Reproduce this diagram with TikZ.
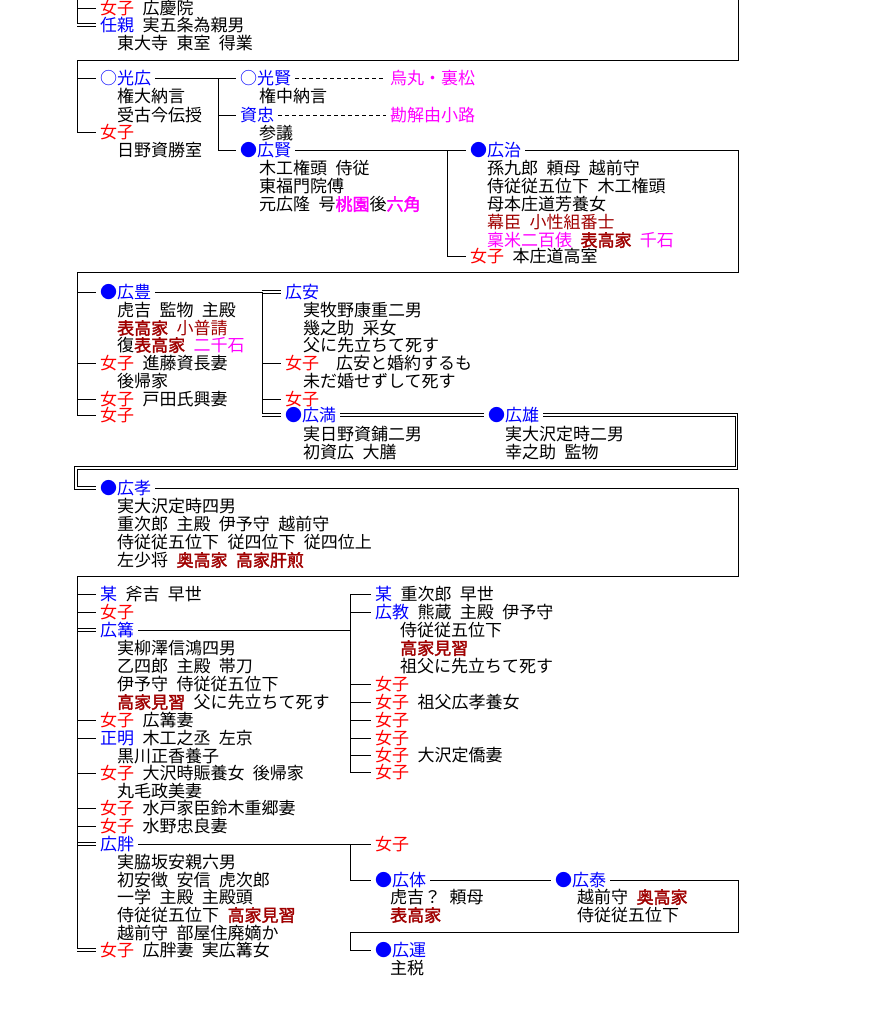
\documentclass[tikz,border=0pt]{standalone}
\usepackage{fontspec}
\setmainfont{Noto Sans CJK JP}[WordSpace=2.2,AutoFakeBold=2]
\definecolor{jblue}{RGB}{0,0,255}
\definecolor{jred}{RGB}{255,0,0}
\definecolor{jmag}{RGB}{255,0,255}
\definecolor{jdred}{RGB}{160,0,0}
\newcommand\jfs{\fontsize{17pt}{18pt}\selectfont}
\newcommand\cB[1]{\textcolor{jblue}{#1}}
\newcommand\cR[1]{\textcolor{jred}{#1}}
\newcommand\cM[1]{\textcolor{jmag}{#1}}
\newcommand\cD[1]{\textcolor{jdred}{#1}}
\newcommand\cDB[1]{{\bfseries\textcolor{jdred}{#1}}}
\newcommand\cMB[1]{{\bfseries\textcolor{jmag}{#1}}}
\tikzset{
  nm/.style={anchor=west, inner xsep=4pt, inner ysep=0pt, text height=15pt, text depth=2pt, font=\jfs},
  ds/.style={anchor=west, inner sep=0pt, text height=15pt, text depth=2pt, font=\jfs},
  ln/.style={line width=1pt},
  dl/.style={double, double distance=1.8pt, line width=0.9pt},
  dsh/.style={line width=1pt, dash pattern=on 4pt off 3pt}
}
\begin{document}
\begin{tikzpicture}[x=1pt,y=-1pt]
\fill[white] (0,0) rectangle (880,1020);
\useasboundingbox (0,0) rectangle (880,1020);
% ---------- section 1
\node[nm] (k1) at (96,8) {\cR{女子} 広慶院};
\node[nm] (k2) at (96,25) {\cB{任親} 実五条為親男};
\node[ds] at (117,43) {東大寺 東室 得業};
\coordinate (v1) at (77,0);
\coordinate (tR) at (738,0);
\coordinate (b1) at (77,60);
% ---------- section 2
\node[nm] (kohiro) at (96,78) {\cB{○光広}};
\node[ds] at (117,96) {権大納言};
\node[ds] at (117,115) {受古今伝授};
\node[nm] (j2) at (96,132) {\cR{女子}};
\node[ds] at (117,150) {日野資勝室};
\node[nm] (mitsukata) at (236,78) {\cB{○光賢}};
\node[nm] (karasuma) at (386,78) {\cM{烏丸・裏松}};
\node[ds] at (259,96) {権中納言};
\node[nm] (suketada) at (236,115) {\cB{資忠}};
\node[nm] (kadenokoji) at (386,115) {\cM{勘解由小路}};
\node[ds] at (259,133) {参議};
\node[nm] (hirokata) at (236,150) {\cB{●広賢}};
\node[ds] at (259,168) {木工権頭 侍従};
\node[ds] at (259,186) {東福門院傅};
\node[ds] at (259,204) {元広隆 号\cMB{桃園}後\cMB{六角}};
\node[nm] (hiroharu) at (466,150) {\cB{●広治}};
\node[ds] at (487,168) {孫九郎 頼母 越前守};
\node[ds] at (487,186) {侍従従五位下 木工権頭};
\node[ds] at (487,204) {母本庄道芳養女};
\node[ds] at (487,222) {\cD{幕臣 小性組番士}};
\node[ds] at (487,240) {\cM{稟米二百俵} \cDB{表高家} \cM{千石}};
\node[nm] (j3) at (466,256) {\cR{女子} 本庄道高室};
\coordinate (v2) at (218,78);
\coordinate (v3) at (447,150);
\coordinate (c3R) at (738,272);
\coordinate (c3L) at (77,272);
% ---------- section 3
\node[nm] (hirotoyo) at (96,292) {\cB{●広豊}};
\node[ds] at (117,310) {虎吉 監物 主殿};
\node[ds] at (117,328) {\cDB{表高家} \cD{小普請}};
\node[ds] at (117,345) {復\cDB{表高家} \cM{二千石}};
\node[nm] (j4) at (96,363) {\cR{女子} 進藤資長妻};
\node[ds] at (117,381) {後帰家};
\node[nm] (j5) at (96,399) {\cR{女子} 戸田氏興妻};
\node[nm] (j6) at (96,415) {\cR{女子}};
\node[nm] (hiroyasu) at (281,292) {\cB{広安}};
\node[ds] at (303,310) {実牧野康重二男};
\node[ds] at (303,328) {幾之助 采女};
\node[ds] at (303,345) {父に先立ちて死す};
\node[nm] (j7) at (281,363) {\cR{女子}　広安と婚約するも};
\node[ds] at (303,381) {未だ婚せずして死す};
\node[nm] (j8) at (281,399) {\cR{女子}};
\node[nm] (hiromitsu) at (281,415) {\cB{●広満}};
\node[ds] at (303,434) {実日野資鋪二男};
\node[ds] at (303,452) {初資広 大膳};
\node[nm] (hirokatsu) at (484,415) {\cB{●広雄}};
\node[ds] at (505,434) {実大沢定時二男};
\node[ds] at (505,452) {幸之助 監物};
\coordinate (v4) at (262,292);
\coordinate (c4R) at (736.5,468);
\coordinate (c4L) at (76,468);
% ---------- section 3b
\node[nm] (hirotaka) at (96,488) {\cB{●広孝}};
\node[ds] at (117,506) {実大沢定時四男};
\node[ds] at (117,524) {重次郎 主殿 伊予守 越前守};
\node[ds] at (117,542) {侍従従五位下 従四位下 従四位上};
\node[ds] at (117,560) {左少将 \cDB{奥高家 高家肝煎}};
\coordinate (c5R) at (738,576);
\coordinate (c5L) at (77,576);
% ---------- section 4 left
\node[nm] (s1) at (96,594) {\cB{某} 斧吉 早世};
\node[nm] (j9) at (96,612) {\cR{女子}};
\node[nm] (hirokagari) at (96,630) {\cB{広篝}};
\node[ds] at (117,648) {実柳澤信鴻四男};
\node[ds] at (117,666) {乙四郎 主殿 帯刀};
\node[ds] at (117,684) {伊予守 侍従従五位下};
\node[ds] at (117,702) {\cDB{高家見習} 父に先立ちて死す};
\node[nm] (j10) at (96,720) {\cR{女子} 広篝妻};
\node[nm] (masaaki) at (96,738) {\cB{正明} 木工之丞 左京};
\node[ds] at (117,756) {黒川正香養子};
\node[nm] (j11) at (96,773) {\cR{女子} 大沢時賑養女 後帰家};
\node[ds] at (117,791) {丸毛政美妻};
\node[nm] (j12) at (96,808) {\cR{女子} 水戸家臣鈴木重郷妻};
\node[nm] (j13) at (96,826) {\cR{女子} 水野忠良妻};
\node[nm] (hirooki) at (96,844) {\cB{広胖}};
\node[ds] at (117,862) {実脇坂安親六男};
\node[ds] at (117,880) {初安徴 安信 虎次郎};
\node[ds] at (117,897) {一学 主殿 主殿頭};
\node[ds] at (117,915) {侍従従五位下 \cDB{高家見習}};
\node[ds] at (117,933) {越前守 部屋住廃嫡か};
\node[nm] (j14) at (96,950) {\cR{女子} 広胖妻 実広篝女};
% ---------- section 4 right
\node[nm] (s2) at (371,594) {\cB{某} 重次郎 早世};
\node[nm] (hironori) at (371,612) {\cB{広教} 熊蔵 主殿 伊予守};
\node[ds] at (400,630) {侍従従五位下};
\node[ds] at (400,648) {\cDB{高家見習}};
\node[ds] at (400,666) {祖父に先立ちて死す};
\node[nm] (j15) at (371,684) {\cR{女子}};
\node[nm] (j16) at (371,702) {\cR{女子} 祖父広孝養女};
\node[nm] (j17) at (371,720) {\cR{女子}};
\node[nm] (j18) at (371,738) {\cR{女子}};
\node[nm] (j19) at (371,755) {\cR{女子} 大沢定僑妻};
\node[nm] (j20) at (371,772) {\cR{女子}};
\coordinate (v6) at (350,630);
\node[nm] (j21) at (371,844) {\cR{女子}};
\node[nm] (hirotai) at (371,880) {\cB{●広体}};
\node[ds] at (390,897) {虎吉？ 頼母};
\node[ds] at (390,915) {\cDB{表高家}};
\node[nm] (hiroyasu2) at (551,880) {\cB{●広泰}};
\node[ds] at (577,897) {越前守 \cDB{奥高家}};
\node[ds] at (577,915) {侍従従五位下};
\node[nm] (hirokazu) at (371,950) {\cB{●広運}};
\node[ds] at (390,968) {主税};
\coordinate (v7) at (350,844);
\coordinate (c8R) at (738,932);
\coordinate (v8) at (350,950);
% ---------- double connectors
\draw[dl] (k2.west -| v1) -- (k2.west);
\draw[dl] (hiroyasu.west -| v4) -- (hiroyasu.west);
\draw[dl] (hiromitsu.west -| v4) -- (hiromitsu.west);
\draw[dl] (hiromitsu.east) -- (hirokatsu.west);
\draw[dl] (hirokatsu.east) -| (c4R) -- (c4L) |- (hirotaka.west);
\draw[dl] (hirokagari.west -| c5L) -- (hirokagari.west);
\draw[dl] (hirooki.west -| c5L) -- (hirooki.west);
\draw[dl] (j14.west -| c5L) -- (j14.west);
% ---------- single connectors
\draw[ln] (v1) |- (k1.west);
\draw[ln] (v1) -- ([yshift=1.2pt]v1 |- k2.west);
\draw[ln] (tR) |- (b1) |- (j2.west);
\draw[ln] (kohiro.west -| b1) -- (kohiro.west);
\draw[ln] (kohiro.east) -- (v2) |- (hirokata.west);
\draw[ln] (v2) -- (mitsukata.west);
\draw[ln] (suketada.west -| v2) -- (suketada.west);
\draw[dsh] (mitsukata.east) -- (karasuma.west);
\draw[dsh] (suketada.east) -- (kadenokoji.west);
\draw[ln] (hirokata.east) -- (hiroharu.west);
\draw[ln] (v3) |- (j3.west);
\draw[ln] (hiroharu.east) -| (c3R) -- (c3L) |- (j6.west);
\draw[ln] (hirotoyo.west -| c3L) -- (hirotoyo.west);
\draw[ln] (j4.west -| c3L) -- (j4.west);
\draw[ln] (j5.west -| c3L) -- (j5.west);
\draw[ln] (hirotoyo.east) -- (v4) -- ([yshift=1.2pt]v4 |- hiromitsu.west);
\draw[ln] (j7.west -| v4) -- (j7.west);
\draw[ln] (j8.west -| v4) -- (j8.west);
\draw[ln] (hirotaka.east) -| (c5R) -- (c5L) -- ([yshift=1.2pt]c5L |- j14.west);
\draw[ln] (s1.west -| c5L) -- (s1.west);
\draw[ln] (j9.west -| c5L) -- (j9.west);
\draw[ln] (j10.west -| c5L) -- (j10.west);
\draw[ln] (masaaki.west -| c5L) -- (masaaki.west);
\draw[ln] (j11.west -| c5L) -- (j11.west);
\draw[ln] (j12.west -| c5L) -- (j12.west);
\draw[ln] (j13.west -| c5L) -- (j13.west);
\draw[ln] (hirokagari.east) -- (v6);
\draw[ln] (s2.west) -| (j20.west -| v6) -- (j20.west);
\foreach \n in {hironori,j15,j16,j17,j18,j19}{
  \draw[ln] (\n.west -| v6) -- (\n.west);
}
\draw[ln] (hirooki.east) -- (j21.west);
\draw[ln] (v7) |- (hirotai.west);
\draw[ln] (hirotai.east) -- (hiroyasu2.west);
\draw[ln] (hiroyasu2.east) -| (c8R) -| (v8) -- (hirokazu.west);
\end{tikzpicture}
\end{document}
